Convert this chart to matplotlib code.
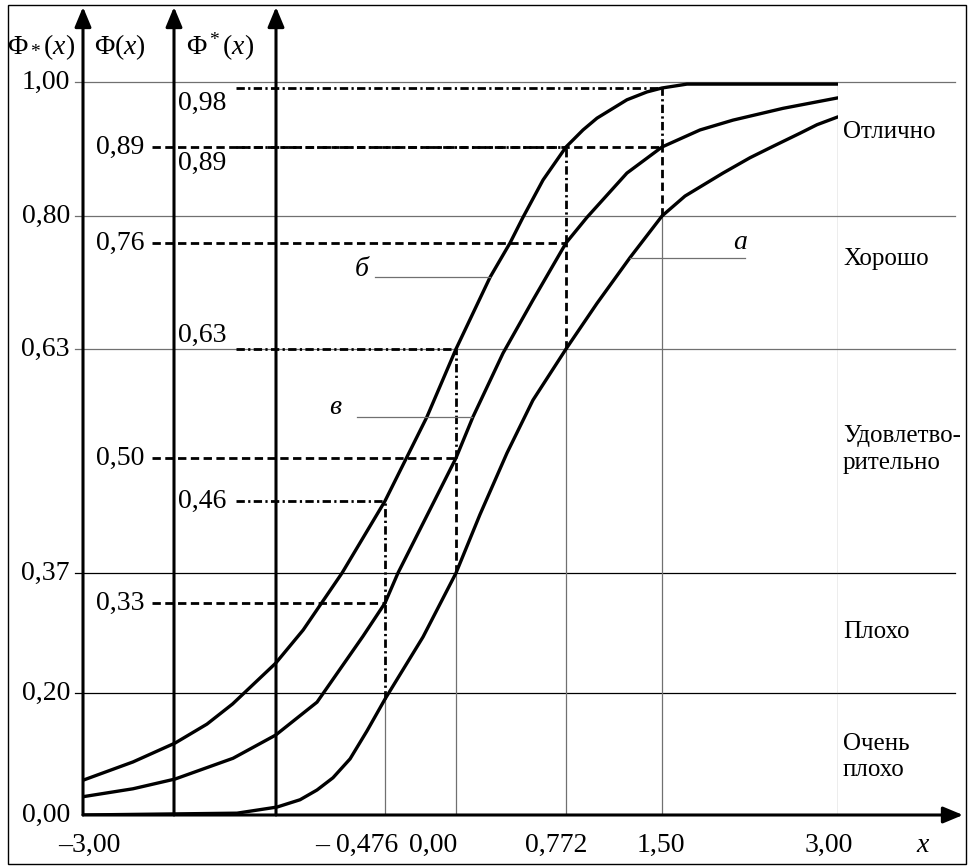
import numpy as np
import matplotlib.pyplot as plt
from matplotlib.patches import Rectangle

plt.rcParams['font.family'] = ['Liberation Serif', 'DejaVu Serif']
plt.rcParams['mathtext.fontset'] = 'custom'
plt.rcParams['mathtext.rm'] = 'Liberation Serif'
plt.rcParams['mathtext.it'] = 'Liberation Serif:italic'

# ---- data ----
x_ticks = [-3.0, -0.476, 0.0, 0.772, 1.50, 3.0]
x_tick_labels = ['–3,00', '– 0,476', '0,00', '0,772', '1,50', '3,00']
y_ticks = [0.0, 0.20, 0.37, 0.63, 0.80, 1.00]
y_tick_labels = ['0,00', '0,20', '0,37', '0,63', '0,80', '1,00']

# points marked on the three curves
x_marks = [-0.476, 0.0, 0.772, 1.50]
phi_b = [0.46, 0.63, 0.89, 0.98]     # curve "б", Φ_*(x)
phi_v = [0.33, 0.50, 0.76, 0.89]     # curve "в", Φ(x)
phi_a = [0.19, 0.37, 0.63, 0.80]     # curve "а", Φ^*(x)

curve_b_x = [-3.0, -2.582, -2.23, -1.964, -1.75, -1.39, -1.16, -0.835, -0.476, -0.195,
             0.0, 0.239, 0.379, 0.470, 0.611, 0.772, 0.901, 1.007, 1.234, 1.386, 1.5,
             1.713, 3.0]
curve_b_y = [0.057, 0.087, 0.118, 0.149, 0.182, 0.243, 0.291, 0.37, 0.46, 0.549,
             0.63, 0.718, 0.76, 0.798, 0.847, 0.89, 0.916, 0.934, 0.962, 0.974, 0.98,
             0.993, 0.993]

curve_v_x = [-3.0, -2.582, -2.23, -1.746, -1.39, -1.044, -0.660, -0.476, -0.389, 0.0,
             0.119, 0.330, 0.540, 0.772, 0.931, 1.234, 1.5, 1.824, 2.105, 2.532, 3.0]
curve_v_y = [0.030, 0.043, 0.059, 0.093, 0.131, 0.185, 0.282, 0.33, 0.37, 0.50,
             0.549, 0.625, 0.690, 0.76, 0.798, 0.856, 0.89, 0.916, 0.931, 0.949, 0.965]

curve_a_x = [-3.0, -1.713, -1.379, -1.186, -1.044, -0.911, -0.768, -0.626, -0.476, -0.221,
             0.0, 0.168, 0.358, 0.540, 0.772, 1.007, 1.257, 1.5, 1.696, 2.020, 2.250,
             2.446, 2.676, 2.821, 3.0]
curve_a_y = [0.0, 0.003, 0.013, 0.025, 0.041, 0.061, 0.092, 0.138, 0.19, 0.281,
             0.37, 0.443, 0.506, 0.569, 0.63, 0.686, 0.742, 0.80, 0.826, 0.856, 0.876,
             0.891, 0.911, 0.924, 0.936]

grade_labels = ['Отлично', 'Хорошо', 'Удовлетво-\nрительно', 'Плохо', 'Очень\nплохо']
grade_y = [0.913, 0.740, 0.51, 0.288, 0.095]

letters = ['б', 'в', 'а']
leader_y = [0.718, 0.549, 0.742]
leader_x0 = [-0.56, -0.71, 1.257]
leader_x1 = [0.239, 0.112, 2.208]

# ---- non-uniform (schematic) scales of the original drawing ----
x_scale_pos = [0, 302, 373, 483, 579, 755]
y_scale_vals = [0.0, 0.20, 0.33, 0.37, 0.46, 0.50, 0.63, 0.76, 0.80, 0.89, 0.98, 1.00]
y_scale_pos = [0, 122, 212, 242, 314, 357, 466, 572, 599, 668, 727, 733]


def make_interp(a, b):
    a = np.asarray(a, float)
    b = np.asarray(b, float)

    def f(v):
        v = np.asarray(v, float)
        out = np.interp(v, a, b)
        out = np.where(v < a[0], b[0] + (v - a[0]) * (b[1] - b[0]) / (a[1] - a[0]), out)
        out = np.where(v > a[-1], b[-1] + (v - a[-1]) * (b[-1] - b[-2]) / (a[-1] - a[-2]), out)
        return out
    return f


fx, fx_inv = make_interp(x_ticks, x_scale_pos), make_interp(x_scale_pos, x_ticks)
fy, fy_inv = make_interp(y_scale_vals, y_scale_pos), make_interp(y_scale_pos, y_scale_vals)

W, H = 968, 866
fig = plt.figure(figsize=(W / 100, H / 100), dpi=100)
ax = fig.add_axes([83 / W, 51 / H, 755 / W, 733 / H])
ax.set_xscale('function', functions=(fx, fx_inv))
ax.set_yscale('function', functions=(fy, fy_inv))
ax.set_xlim(-3, 3)
ax.set_ylim(0, 1)
ax.axis('off')

ytr = ax.get_yaxis_transform()
GRAY = '#707070'
FS = 20

# horizontal grid lines
for v in y_ticks[1:]:
    c = 'black' if v in (0.20, 0.37) else GRAY
    ax.plot([-0.0106, 1.155], [v, v], transform=ytr, color=c, lw=0.9, clip_on=False)

# vertical guide lines
dash = (0, (3, 1.6))
dashdot = (0, (3, 1.2, 0.8, 1.2))
low_styles = [dashdot, dash, dash, dash]
for xm, b, v, a, st in zip(x_marks, phi_b, phi_v, phi_a, low_styles):
    ax.plot([xm, xm], [0, a], color=GRAY, lw=0.9)
    ax.plot([xm, xm], [a, v], color='black', lw=2, ls=st)
    ax.plot([xm, xm], [v, b], color='black', lw=2, ls=dashdot)
ax.plot([3.0, 3.0], [0, 1.0], color=GRAY, lw=0.9)

# horizontal leader lines
dash_start = float(fx_inv(0.0914 * 755))
dashdot_start = float(fx_inv(0.2026 * 755))
for xm, b, v in zip(x_marks, phi_b, phi_v):
    ax.plot([dash_start, xm], [v, v], color='black', lw=2, ls=dash)
    ax.plot([dashdot_start, xm], [b, b], color='black', lw=2, ls=dashdot)

# curves
for cx, cy in [(curve_b_x, curve_b_y), (curve_v_x, curve_v_y), (curve_a_x, curve_a_y)]:
    ax.plot(cx, cy, color='black', lw=2.4, solid_joinstyle='round', solid_capstyle='round')

# axes with arrows
arrow = dict(arrowstyle='-|>,head_length=0.6,head_width=0.25', lw=2.2, color='black',
             shrinkA=0, shrinkB=0, mutation_scale=20)
ax.annotate('', xy=(880 / 755, 0), xytext=(0, 0), xycoords='axes fraction', arrowprops=arrow)
for fr in [0.0, 91 / 755, 193 / 755]:
    ax.annotate('', xy=(fr, 808 / 733), xytext=(fr, 0), xycoords='axes fraction',
                arrowprops=arrow)

# tick labels
for v, lab in zip(y_ticks, y_tick_labels):
    ax.annotate(lab, xy=(0, v), xycoords=ytr, xytext=(-13, 0), textcoords='offset pixels',
                ha='right', va='center', fontsize=FS)

x_offsets = [6, -28, -23, -10, -1, -9]
for v, lab, dx in zip(x_ticks, x_tick_labels, x_offsets):
    ax.annotate(lab, xy=(v, 0), xycoords=ax.get_xaxis_transform(), xytext=(dx, -30),
                textcoords='offset pixels', ha='center', va='center', fontsize=FS)
ax.annotate('x', xy=(840 / 755, 0), xycoords='axes fraction', xytext=(0, -30),
            textcoords='offset pixels', ha='center', va='center', fontsize=FS, style='italic')

# value labels next to the guide lines
for v in phi_v:
    ax.annotate(f'{v:.2f}'.replace('.', ','), xy=(0.0914, v), xycoords=ytr, xytext=(-8, 0),
                textcoords='offset pixels', ha='right', va='center', fontsize=FS)
b_offsets = [0, 14, -16, -15]
for b, dy in zip(phi_b, b_offsets):
    ax.annotate(f'{b:.2f}'.replace('.', ','), xy=(95 / 755, b), xycoords=ytr, xytext=(0, dy),
                textcoords='offset pixels', ha='left', va='center', fontsize=FS)

# grade labels
for lab, gy in zip(grade_labels, grade_y):
    ax.annotate(lab, xy=(760 / 755, gy), xycoords=ytr, ha='left', va='center',
                fontsize=18, linespacing=1.25)

# curve letters
letter_offsets = [(-13, 8), (-22, 9), (-5, 15)]
for i, (let, ly, x0, x1) in enumerate(zip(letters, leader_y, leader_x0, leader_x1)):
    ax.plot([x0, x1], [ly, ly], color=GRAY, lw=0.9)
    anchor = x1 if i == 2 else x0
    ax.annotate(let, xy=(anchor, ly), xytext=letter_offsets[i], textcoords='offset pixels',
                ha='center', va='center', fontsize=FS, style='italic')

# axis names
for txt, cx in [(r'$\Phi_*(x)$', 41), (r'$\Phi(x)$', 120), (r'$\Phi^*(x)$', 220)]:
    fig.text(cx / W, 1 - 47 / H, txt, ha='center', va='center', fontsize=FS)

fig.add_artist(Rectangle((8 / W, 1 - 864 / H), 958 / W, 859 / H, transform=fig.transFigure,
                         fill=False, lw=1.0, color='black'))

fig.savefig('out.png', dpi=100)
